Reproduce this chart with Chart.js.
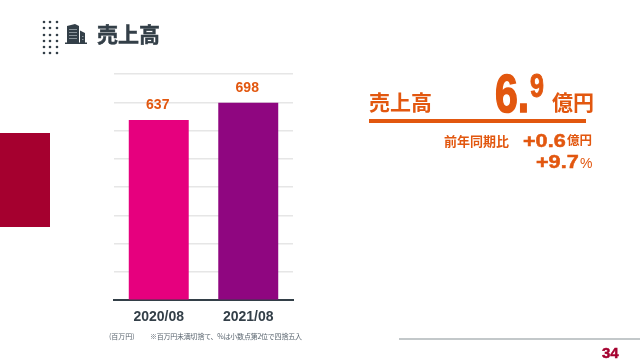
<!DOCTYPE html>
<html lang="ja">
<head>
<meta charset="utf-8">
<script src="https://cdn.jsdelivr.net/npm/chart.js@4"></script>
<style>
html, body { margin: 0; padding: 0; background: #fff; }
#page { position: relative; width: 640px; height: 360px; overflow: hidden; font-family: "Noto Sans CJK JP", sans-serif; }
#page canvas { position: absolute; left: 0; top: 0; }
.t { position: absolute; white-space: nowrap; line-height: 1; }
.o { color: #e2570f; font-weight: 700; }
.n { font-family: "Liberation Sans", Arial, sans-serif; }
.h { -webkit-text-stroke: .5px currentColor; }
.w { transform: scaleX(1.2); transform-origin: left top; }
.box { position: absolute; }
</style>
</head>
<body>
<div id="page">
  <canvas id="salesChart" width="640" height="360"></canvas>

  <!-- header -->
  <svg class="box" style="left:40px;top:18px" width="22" height="40">
    <g fill="#333f48">
      <circle cx="4" cy="4" r="1.3"/><circle cx="10" cy="4" r="1.3"/><circle cx="17" cy="4" r="1.3"/>
      <circle cx="4" cy="10" r="1.3"/><circle cx="10" cy="10" r="1.3"/><circle cx="17" cy="10" r="1.3"/>
      <circle cx="4" cy="17" r="1.3"/><circle cx="10" cy="17" r="1.3"/><circle cx="17" cy="17" r="1.3"/>
      <circle cx="4" cy="23" r="1.3"/><circle cx="10" cy="23" r="1.3"/><circle cx="17" cy="23" r="1.3"/>
      <circle cx="4" cy="29" r="1.3"/><circle cx="10" cy="29" r="1.3"/><circle cx="17" cy="29" r="1.3"/>
      <circle cx="4" cy="35" r="1.3"/><circle cx="10" cy="35" r="1.3"/><circle cx="17" cy="35" r="1.3"/>
    </g>
  </svg>
  <svg class="box" style="left:64px;top:23px" width="24" height="23">
    <path fill="#333f48" d="M3 20V3L11 1 15 3V20ZM16 20V7.5L21 10V20ZM1 19.5H23V21H1Z"/>
    <g fill="#8a949b">
      <rect x="5" y="6" width="8" height="1"/><rect x="5" y="9" width="8" height="1"/>
      <rect x="5" y="12" width="8" height="1"/><rect x="5" y="15" width="8" height="1"/>
      <rect x="18" y="13" width="1.5" height="1"/><rect x="18" y="16" width="1.5" height="1"/>
    </g>
  </svg>
  <div class="t h" style="left:97px;top:23px;font-size:21px;font-weight:700;color:#333f48">売上高</div>

  <!-- red block -->
  <div class="box" style="left:0;top:133px;width:50px;height:94px;background:#a5002f"></div>

  <!-- right panel -->
  <div class="t o" style="left:369px;top:91px;font-size:21px">売上高</div>
  <div class="t o n h" style="left:495px;top:66px;font-size:54px;transform:scaleX(.76);transform-origin:left top;-webkit-text-stroke-width:1.5px">6.</div>
  <div class="t o n h" style="left:530px;top:69px;font-size:33px;transform:scaleX(.76);transform-origin:left top;-webkit-text-stroke-width:1px">9</div>
  <div class="t o" style="left:552px;top:91px;font-size:21px">億円</div>
  <div class="box" style="left:369px;top:119px;width:217px;height:4px;background:#e2570f"></div>
  <div class="t o" style="left:444px;top:134px;font-size:13px">前年同期比</div>
  <div class="t o n h w" style="left:523px;top:132px;font-size:18px">+0.6</div>
  <div class="t o" style="left:567px;top:134px;font-size:12.5px">億円</div>
  <div class="t o n h w" style="left:536px;top:153px;font-size:18px">+9.7</div>
  <div class="t o n" style="left:580px;top:156px;font-size:14px;font-weight:400">%</div>

  <!-- footnotes -->
  <div class="t" style="left:109px;top:333px;font-size:7px;color:#5b6670">(百万円)</div>
  <div class="t" style="left:150px;top:333px;font-size:7px;letter-spacing:-.23px;color:#5b6670">※百万円未満切捨て、%は小数点第2位で四捨五入</div>

  <!-- footer -->
  <div class="box" style="left:399px;top:338px;width:241px;height:2px;background:#c3c8ca"></div>
  <div class="t n h" style="left:602px;top:345px;font-size:15px;font-weight:700;color:#a5002f">34</div>
</div>

<script>
const categories = ['2020/08', '2021/08'];
const salesValues = [637, 698];
const barColors = ['#e6007e', '#8f0680'];
const yMax = 800;
const yStep = 100;

// value labels above the bars
const valueLabels = {
    id: 'valueLabels',
    afterDatasetsDraw(chart) {
        const ctx = chart.ctx;
        ctx.save();
        ctx.font = 'bold 14px "Liberation Sans", Arial, sans-serif';
        ctx.fillStyle = '#e2570f';
        ctx.textAlign = 'center';
        ctx.textBaseline = 'bottom';
        chart.getDatasetMeta(0).data.forEach((bar, i) => {
            ctx.fillText(salesValues[i], bar.x - 1, bar.y - 8);
        });
        ctx.restore();
    }
};

new Chart(document.getElementById('salesChart').getContext('2d'), {
    type: 'bar',
    data: {
        labels: categories,
        datasets: [{
            data: salesValues,
            backgroundColor: barColors,
            barPercentage: 0.67,
            categoryPercentage: 1
        }]
    },
    options: {
        responsive: false,
        animation: false,
        layout: { padding: { left: 114, right: 347, top: 74, bottom: 25 } },
        plugins: { legend: { display: false }, tooltip: { enabled: false } },
        scales: {
            x: {
                grid: { drawOnChartArea: false, drawTicks: false },
                border: { color: '#333f48', width: 2 },
                ticks: { color: '#333f48', font: { family: '"Liberation Sans", Arial, sans-serif', size: 14, weight: 'bold' }, padding: 9, maxRotation: 0 }
            },
            y: {
                min: 0,
                max: yMax,
                grid: { color: '#e6e6e6', lineWidth: 1.5, drawTicks: false },
                border: { display: false },
                ticks: { display: false, stepSize: yStep }
            }
        }
    },
    plugins: [valueLabels]
});
</script>
</body>
</html>
